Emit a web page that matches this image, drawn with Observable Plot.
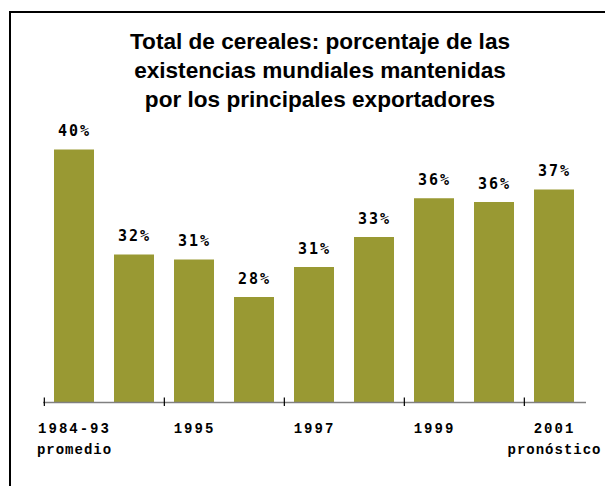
<!DOCTYPE html>
<html>
<head>
<meta charset="utf-8">
<script src="https://cdn.jsdelivr.net/npm/d3@7"></script>
<script src="https://cdn.jsdelivr.net/npm/@observablehq/plot@0.6"></script>
<style>
  html, body { margin: 0; padding: 0; background: #fff; overflow: hidden; }
  body { position: relative; width: 605px; height: 486px; }
  #frame { position: absolute; left: 9px; top: 11px; width: 700px; height: 600px;
           border-top: 2px solid #000; border-left: 2px solid #000; pointer-events: none; }
  #title { width: 605px; height: 120px; box-sizing: border-box; padding-top: 27px; padding-left: 35px;
           text-align: center; font-family: "Liberation Sans", Arial, sans-serif; font-weight: bold;
           font-size: 22.6px; line-height: 29px; color: #000; }
  #chart svg { display: block; }
</style>
</head>
<body>
<div id="title">Total de cereales: porcentaje de las<br>existencias mundiales mantenidas<br>por los principales exportadores</div>
<div id="chart"></div>
<div id="frame"></div>
<script>
const categories = ["1984-93", "1994", "1995", "1996", "1997", "1998", "1999", "2000", "2001"];
const shares = [40.2, 31.8, 31.4, 28.4, 30.8, 33.2, 36.3, 36.0, 37.0];
const tickYears = ["1984-93", "1995", "1997", "1999", "2001"];
const noteCats = ["1984-93", "2001"];
const noteTexts = ["promedio", "pronóstico"];

const fmt = d3.format(".0f");
const rows = categories.map((c, i) => ({cat: c, share: shares[i]}));
const notes = noteCats.map((c, i) => ({cat: c, note: noteTexts[i]}));

const chart = Plot.plot({
  width: 605,
  height: 366,
  marginTop: 32,
  marginBottom: 84,
  marginLeft: 43,
  marginRight: 19,
  style: {fontFamily: "'Liberation Mono', 'Courier New', monospace", fontWeight: "bold", fontSize: "14px", letterSpacing: "2px", color: "#000", background: "#fff"},
  x: {domain: categories, paddingInner: 0.33, paddingOuter: 0.165, axis: "bottom", tickSize: 0, tickPadding: 21,
      tickFormat: d => tickYears.includes(d) ? d : "", label: null},
  y: {domain: [20, 40], axis: null},
  marks: [
    Plot.barY(rows, {x: "cat", y1: 20, y2: "share", fill: "#999933"}),
    Plot.ruleY([20], {stroke: "#808080", strokeWidth: 1.6}),
    Plot.ruleX(tickYears, {x: d => d, dx: -30.17, y1: 19.68, y2: 20.36, stroke: "#000", strokeWidth: 1.2}),
    Plot.text(rows, {x: "cat", y: "share", text: d => fmt(d.share) + "%", dy: -18.5,
      fontFamily: "'DejaVu Sans Mono', monospace", fontWeight: "bold", fontSize: 15, fill: "#000"}),
    Plot.text(notes, {x: "cat", y: 20, text: "note", lineAnchor: "top", dy: 41.5, fill: "#000"})
  ]
});
d3.select(chart).selectAll("text")
  .filter(function() { return noteTexts.includes(this.textContent); })
  .style("letter-spacing", "1px");
document.getElementById("chart").appendChild(chart);
</script>
</body>
</html>
